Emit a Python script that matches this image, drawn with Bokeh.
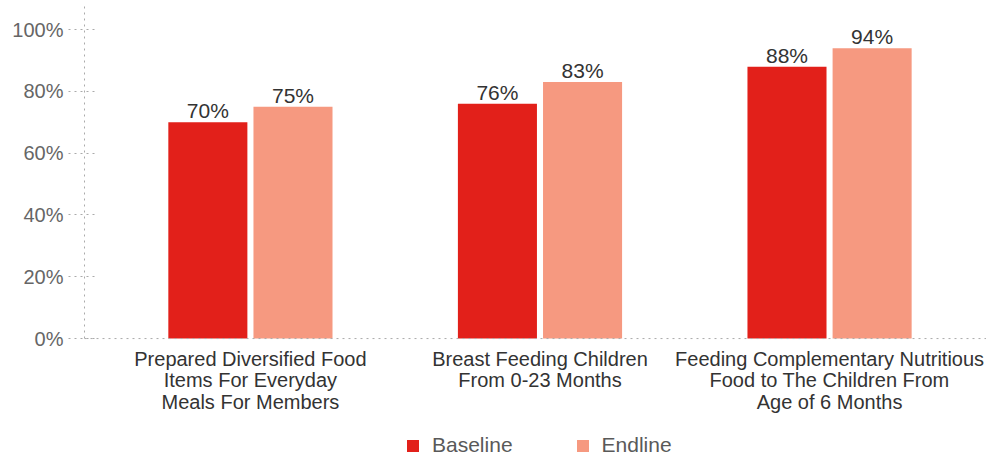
from bokeh.plotting import figure
from bokeh.models import ColumnDataSource, Range1d, FixedTicker, Legend, LegendItem, Span
from bokeh.transform import dodge
from bokeh.core.properties import value
from bokeh.embed import file_html
from bokeh.resources import INLINE

# --- data ---
categories = [
    "Prepared Diversified Food\nItems For Everyday\nMeals For Members",
    "Breast Feeding Children\nFrom 0-23 Months",
    "Feeding Complementary Nutritious\nFood to The Children From\nAge of 6 Months",
]
baseline = [70, 76, 88]
endline = [75, 83, 94]
y_ticks = [0, 20, 40, 60, 80, 100]
y_tick_labels = ["0%", "20%", "40%", "60%", "80%", "100%"]

FONT = "Liberation Sans"
RED = "#e2201a"
SALMON = "#f69980"
AXIS_GREY = "#aaaaaa"
Y_TOP = 107.8

idx = list(range(len(categories)))
src = ColumnDataSource(dict(
    x=idx,
    zero=[0] * len(idx),
    category=categories,
    baseline=baseline,
    endline=endline,
    baseline_txt=[f"{v}%" for v in baseline],
    endline_txt=[f"{v}%" for v in endline],
))

# the frame extends below zero so the category labels and legend live inside it
p = figure(
    frame_width=902, frame_height=452,
    x_range=Range1d(-0.573, 2.542),
    y_range=Range1d(-38.5, Y_TOP),
    output_backend="svg", toolbar_location=None,
    min_border_left=84, min_border_right=0, min_border_top=5, min_border_bottom=0,
)
p.outline_line_color = None
p.xgrid.visible = False
p.ygrid.visible = False
p.xaxis.visible = False
p.background_fill_color = "white"
p.border_fill_color = "white"

# dotted baseline at 0%
p.add_layout(Span(location=0, dimension="width", line_color=AXIS_GREY,
                  line_dash="dotted", line_width=1))

bw = 0.273
off = 0.147
r_base = p.vbar(x=dodge("x", -off, range=p.x_range), top="baseline", width=bw,
                source=src, fill_color=RED, line_color=None)
r_end = p.vbar(x=dodge("x", off, range=p.x_range), top="endline", width=bw,
               source=src, fill_color=SALMON, line_color=None)

# value labels above each bar
for col, dx in (("baseline", -off), ("endline", off)):
    p.text(x=dodge("x", dx, range=p.x_range), y=col, text=col + "_txt", source=src,
           text_align="center", text_baseline="bottom", y_offset=0,
           text_font=value(FONT), text_font_size="21px", text_color="#333333")

# category labels under the baseline
p.text(x="x", y="zero", text="category", source=src, y_offset=9,
       text_align="center", text_baseline="top", text_line_height=0.98,
       text_font=value(FONT), text_font_size="20px", text_color="#333333")

# y axis: dotted line (0%..top) and dotted ticks crossing it
ya = p.yaxis[0]
ya.bounds = (0, Y_TOP)
ya.ticker = FixedTicker(ticks=y_ticks)
ya.major_label_overrides = {t: s for t, s in zip(y_ticks, y_tick_labels)}
ya.axis_line_color = AXIS_GREY
ya.axis_line_dash = "dotted"
ya.major_tick_line_color = AXIS_GREY
ya.major_tick_line_dash = "dotted"
ya.major_tick_out = 16
ya.major_tick_in = 14
ya.minor_tick_line_color = None
ya.major_label_standoff = 5
ya.major_label_text_font = FONT
ya.major_label_text_font_size = "20px"
ya.major_label_text_color = "#666666"

legend = Legend(
    items=[LegendItem(label="Baseline", renderers=[r_base]),
           LegendItem(label="Endline", renderers=[r_end])],
    orientation="horizontal", location=(321, 0),
    glyph_width=15, glyph_height=15, label_standoff=12, spacing=62,
    padding=0, margin=0, border_line_color=None, background_fill_alpha=0,
    label_text_font=FONT, label_text_font_size="21px", label_text_color="#595959",
)
p.add_layout(legend, "center")

open("out.html", "w").write(file_html(p, INLINE))
